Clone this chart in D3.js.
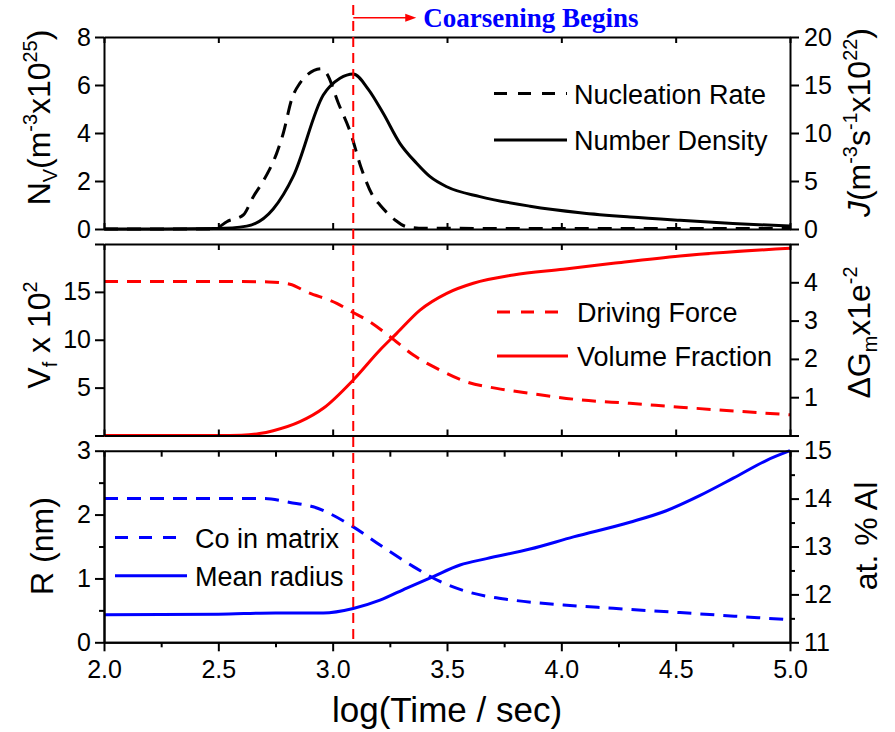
<!DOCTYPE html>
<html><head><meta charset="utf-8">
<script src="https://cdn.jsdelivr.net/npm/d3@7"></script>
<style>
body{margin:0;background:#fff}
svg{display:block}
text{font-family:"Liberation Sans",Arial,sans-serif;fill:#000}
text.serif{font-family:"Liberation Serif","Times New Roman",serif;font-weight:bold;fill:#0000ff}
</style>
</head><body>
<svg id="c" width="895" height="732"></svg>
<script>
// ---------------- data ----------------
const xTickValues = [2.0, 2.5, 3.0, 3.5, 4.0, 4.5, 5.0];
const xMinorValues = [2.25, 2.75, 3.25, 3.75, 4.25, 4.75];
const coarseningStart = 3.09;

// Top panel: number density (left, x10^25 m^-3), nucleation rate (right, x10^22 m^-3 s^-1)
const densityTime  = [2.0, 2.25, 2.49, 2.624, 2.74, 2.828, 2.959, 3.032, 3.09, 3.156, 3.221, 3.294, 3.367, 3.426, 3.499, 3.644, 3.863, 4.082, 4.3, 4.519, 4.75, 5.0];
const densityValue = [0, 0, 0.02, 0.12, 0.83, 2.2, 5.58, 6.28, 6.46, 5.82, 4.82, 3.57, 2.74, 2.18, 1.76, 1.35, 0.95, 0.68, 0.5, 0.36, 0.23, 0.12];
const nucleationTime  = [2.0, 2.478, 2.497, 2.537, 2.609, 2.653, 2.69, 2.723, 2.755, 2.784, 2.822, 2.857, 2.886, 2.952, 2.974, 3.025, 3.079, 3.123, 3.178, 3.207, 3.273, 3.324, 3.4, 4.0, 5.0];
const nucleationValue = [0, 0, 0.14, 0.76, 1.46, 3.37, 4.76, 6.15, 7.88, 9.97, 13.6, 15.2, 16.0, 16.7, 16.2, 13.1, 9.97, 6.49, 3.36, 2.5, 0.94, 0.24, 0.08, 0.05, 0.05];

// Middle panel: volume fraction (left, x10^-2), driving force (right, x1e-2)
const volumeTime  = [2.0, 2.5, 2.6, 2.68, 2.74, 2.857, 2.959, 3.09, 3.207, 3.28, 3.382, 3.499, 3.615, 3.79, 4.009, 4.227, 4.519, 5.0];
const volumeValue = [0, 0, 0.03, 0.2, 0.5, 1.44, 2.84, 5.8, 8.93, 10.67, 13.1, 14.85, 15.9, 16.76, 17.36, 17.98, 18.75, 19.55];
const drivingTime  = [2.0, 2.5, 2.72, 2.813, 2.886, 3.018, 3.083, 3.149, 3.251, 3.353, 3.469, 3.586, 3.717, 3.863, 4.082, 4.3, 4.519, 5.0];
const drivingValue = [4.02, 4.02, 4.01, 3.95, 3.75, 3.45, 3.23, 3.02, 2.58, 2.10, 1.71, 1.40, 1.23, 1.10, 0.93, 0.84, 0.74, 0.54];

// Bottom panel: mean radius (left, nm), Co in matrix (right, at.% Al)
const radiusTime  = [2.0, 2.5, 2.75, 2.959, 3.09, 3.207, 3.324, 3.44, 3.557, 3.673, 3.863, 4.053, 4.3, 4.459, 4.607, 4.752, 4.898, 5.0];
const radiusValue = [0.43, 0.44, 0.46, 0.46, 0.53, 0.66, 0.85, 1.03, 1.21, 1.31, 1.46, 1.65, 1.88, 2.06, 2.3, 2.57, 2.85, 3.0];
const matrixTime  = [2.0, 2.5, 2.7, 2.813, 2.915, 3.09, 3.207, 3.353, 3.469, 3.586, 3.79, 4.009, 4.227, 4.519, 5.0];
const matrixValue = [14.0, 14.0, 14.0, 13.92, 13.83, 13.41, 13.03, 12.58, 12.27, 12.06, 11.88, 11.78, 11.71, 11.62, 11.47];

// ---------------- drawing ----------------
const svg = d3.select('#c');
const x = d3.scaleLinear().domain([2, 5]).range([104, 790]);
const panels = [
  {top: 37, bottom: 229},
  {top: 244, bottom: 435.5},
  {top: 450.7, bottom: 642.3}
];
const TICK_FONT = 25, TITLE_FONT = 32, LEG_FONT = 27;

function styleAxis(g) {
  g.select('.domain').attr('stroke', '#000').attr('stroke-width', 2);
  g.selectAll('.tick line').attr('stroke', '#000').attr('stroke-width', 2);
  g.selectAll('.tick text').attr('font-size', TICK_FONT).attr('fill', '#000');
  g.attr('font-size', null).attr('font-family', null);
}

function zip(a, b) { return a.map((v, i) => [v, b[i]]); }

function drawLine(yScale, tArr, vArr, color, dashed) {
  const line = d3.line().x(d => x(d[0])).y(d => yScale(d[1])).curve(d3.curveMonotoneX);
  svg.append('path').datum(zip(tArr, vArr))
    .attr('d', line).attr('fill', 'none').attr('stroke', color)
    .attr('stroke-width', 3).attr('stroke-linejoin', 'round')
    .attr('stroke-dasharray', dashed ? '14,9' : null);
}

function frame(p, yL, yR, opts) {
  const topAx = d3.axisTop(x).tickValues(opts.topTicks).tickSize(-6).tickSizeOuter(0).tickFormat('');
  svg.append('g').attr('transform', `translate(0,${p.top})`).call(topAx).call(styleAxis);
  if (!opts.bottomAxis) {
    const botAx = d3.axisBottom(x).tickValues(xTickValues).tickSize(-6).tickSizeOuter(0).tickFormat('');
    svg.append('g').attr('transform', `translate(0,${p.bottom})`).call(botAx).call(styleAxis);
  } else {
    const botAx = d3.axisBottom(x).tickValues(xTickValues).tickSize(9).tickSizeOuter(0).tickPadding(9).tickFormat(d3.format('.1f'));
    svg.append('g').attr('transform', `translate(0,${p.bottom})`).call(botAx).call(styleAxis);
    const botMinor = d3.axisBottom(x).tickValues(xMinorValues).tickSize(5).tickSizeOuter(0).tickFormat('');
    svg.append('g').attr('transform', `translate(0,${p.bottom})`).call(botMinor).call(styleAxis);
  }
  const lAx = d3.axisLeft(yL).tickValues(opts.leftTicks).tickSize(9).tickSizeOuter(0).tickPadding(4)
    .tickFormat(opts.leftFormat);
  svg.append('g').attr('transform', `translate(${x(2)},0)`).call(lAx).call(styleAxis);
  if (opts.leftMinor) {
    const lm = d3.axisLeft(yL).tickValues(opts.leftMinor).tickSize(5).tickSizeOuter(0).tickFormat('');
    svg.append('g').attr('transform', `translate(${x(2)},0)`).call(lm).call(styleAxis);
  }
  const rAx = d3.axisRight(yR).tickValues(opts.rightTicks).tickSize(9).tickSizeOuter(0).tickPadding(5)
    .tickFormat(opts.rightFormat);
  svg.append('g').attr('transform', `translate(${x(5)},0)`).call(rAx).call(styleAxis);
  if (opts.rightMinor) {
    const rm = d3.axisRight(yR).tickValues(opts.rightMinor).tickSize(5).tickSizeOuter(0).tickFormat('');
    svg.append('g').attr('transform', `translate(${x(5)},0)`).call(rm).call(styleAxis);
  }
}

function richText(g, segs, size) {
  const t = g.append('text').attr('font-size', size).attr('text-anchor', 'middle');
  let shift = 0;
  segs.forEach(s => {
    const ts = t.append('tspan').text(s.t);
    let target = 0, fs = size;
    if (s.k === 'sub') { target = 0.22 * size; fs = 0.62 * size; }
    if (s.k === 'sup') { target = -0.42 * size; fs = 0.62 * size; }
    ts.attr('font-size', fs).attr('dy', target - shift);
    if (s.i) ts.attr('font-style', 'italic');
    shift = target;
  });
  return t;
}
function vTitle(cx, cy, segs) {
  const g = svg.append('g').attr('transform', `translate(${cx},${cy}) rotate(-90)`);
  richText(g, segs, TITLE_FONT);
}

// ---- Top panel
const p0 = panels[0];
const yDen = d3.scaleLinear().domain([0, 8]).range([p0.bottom, p0.top]);
const yNuc = d3.scaleLinear().domain([0, 20]).range([p0.bottom, p0.top]);
drawLine(yNuc, nucleationTime, nucleationValue, '#000', true);
drawLine(yDen, densityTime, densityValue, '#000', false);
frame(p0, yDen, yNuc, {
  topTicks: xTickValues, leftTicks: [0, 2, 4, 6, 8], rightTicks: [0, 5, 10, 15, 20],
  leftFormat: d3.format('d'), rightFormat: d3.format('d')
});

// ---- Middle panel
const p1 = panels[1];
const yVol = d3.scaleLinear().domain([0, 20]).range([p1.bottom, p1.top]);
const yDG = d3.scaleLinear().domain([0, 5]).range([p1.bottom, p1.top]);
drawLine(yDG, drivingTime, drivingValue, '#ff0000', true);
drawLine(yVol, volumeTime, volumeValue, '#ff0000', false);
frame(p1, yVol, yDG, {
  topTicks: xTickValues, leftTicks: [0, 5, 10, 15, 20], rightTicks: [0, 1, 2, 3, 4, 5],
  leftFormat: d => (d === 0 || d === 20) ? '' : d,
  rightFormat: d => (d === 0 || d === 5) ? '' : d
});

// ---- Bottom panel
const p2 = panels[2];
const yRad = d3.scaleLinear().domain([0, 3]).range([p2.bottom, p2.top]);
const yCo = d3.scaleLinear().domain([11, 15]).range([p2.bottom, p2.top]);
drawLine(yCo, matrixTime, matrixValue, '#0000ff', true);
drawLine(yRad, radiusTime, radiusValue, '#0000ff', false);
frame(p2, yRad, yCo, {
  topTicks: xTickValues.concat(xMinorValues), bottomAxis: true,
  leftTicks: [0, 1, 2, 3], leftMinor: [0.5, 1.5, 2.5],
  rightTicks: [11, 12, 13, 14, 15], rightMinor: [11.5, 12.5, 13.5, 14.5],
  leftFormat: d3.format('d'), rightFormat: d3.format('d')
});

// ---- Coarsening marker
const xc = x(coarseningStart);
svg.append('line').attr('x1', xc).attr('x2', xc).attr('y1', 5).attr('y2', 644)
  .attr('stroke', '#ff0000').attr('stroke-width', 2).attr('stroke-dasharray', '10,6');
svg.append('line').attr('x1', xc).attr('x2', xc + 54).attr('y1', 17.7).attr('y2', 17.7)
  .attr('stroke', '#ff0000').attr('stroke-width', 1.5);
svg.append('path').attr('d', `M${xc + 52},13.7 L${xc + 63},17.7 L${xc + 52},21.7 Z`).attr('fill', '#ff0000');
svg.append('text').attr('class', 'serif').attr('x', xc + 70).attr('y', 26.5)
  .attr('font-size', 27).text('Coarsening Begins');

// ---- Legends
function legend(items, x0, x1, tx) {
  items.forEach(it => {
    svg.append('line').attr('x1', x0).attr('x2', x1).attr('y1', it.y).attr('y2', it.y)
      .attr('stroke', it.color).attr('stroke-width', 3)
      .attr('stroke-dasharray', it.dashed ? '13,11' : null);
    svg.append('text').attr('x', tx).attr('y', it.y + 10).attr('font-size', LEG_FONT).text(it.label);
  });
}
legend([{y: 93.5, color: '#000', dashed: true, label: 'Nucleation Rate'},
        {y: 140, color: '#000', dashed: false, label: 'Number Density'}], 494, 567, 574);
legend([{y: 312, color: '#ff0000', dashed: true, label: 'Driving Force'},
        {y: 356, color: '#ff0000', dashed: false, label: 'Volume Fraction'}], 497, 568, 577);
legend([{y: 537.5, color: '#0000ff', dashed: true, label: 'Co in matrix'},
        {y: 575.7, color: '#0000ff', dashed: false, label: 'Mean radius'}], 115, 187, 195);

// ---- Axis titles
vTitle(50, 117.5, [{t: 'N'}, {t: 'V', k: 'sub'}, {t: '(m'}, {t: '-3', k: 'sup'}, {t: 'x10'}, {t: '25', k: 'sup'}, {t: ')'}]);
vTitle(50, 335, [{t: 'V'}, {t: 'f', k: 'sub'}, {t: ' x 10'}, {t: '2', k: 'sup'}]);
vTitle(53, 546, [{t: 'R (nm)'}]);
vTitle(870, 122.6, [{t: 'J', i: true}, {t: '(m'}, {t: '-3', k: 'sup'}, {t: 's'}, {t: '-1', k: 'sup'}, {t: 'x10'}, {t: '22', k: 'sup'}, {t: ')'}]);
vTitle(870, 332.5, [{t: 'ΔG'}, {t: 'm', k: 'sub'}, {t: 'x1e'}, {t: '-2', k: 'sup'}]);
vTitle(877, 536, [{t: 'at. % Al'}]);

svg.append('text').attr('x', x(3.5)).attr('y', 721.5).attr('text-anchor', 'middle')
  .attr('font-size', 35).text('log(Time / sec)');
</script>
</body></html>
